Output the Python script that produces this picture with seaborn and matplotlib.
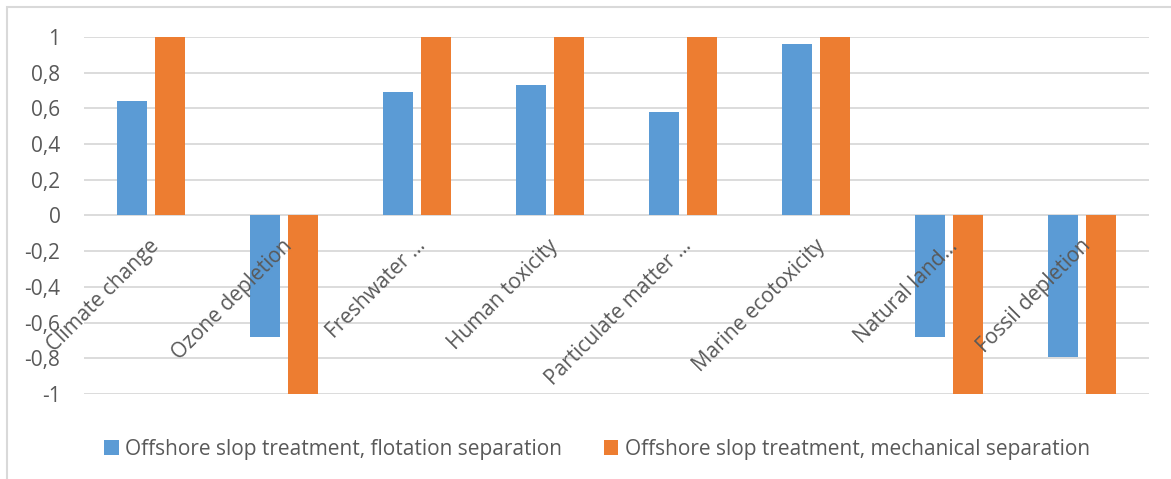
import matplotlib
matplotlib.use("Agg")
import matplotlib.pyplot as plt
from matplotlib.patches import Rectangle, Patch
from matplotlib.transforms import offset_copy
import seaborn as sns
import pandas as pd

categories = [
    "Climate change", "Ozone depletion", "Freshwater …", "Human toxicity",
    "Particulate matter …", "Marine ecotoxicity", "Natural land…", "Fossil depletion",
]
flotation = [0.64, -0.68, 0.69, 0.73, 0.58, 0.96, -0.68, -0.79]
mechanical = [1, -1, 1, 1, 1, 1, -1, -1]
series_names = [
    "Offshore slop treatment, flotation separation",
    "Offshore slop treatment, mechanical separation",
]
y_ticks = [-1, -0.8, -0.6, -0.4, -0.2, 0, 0.2, 0.4, 0.6, 0.8, 1]

colors = ["#5B9BD5", "#ED7D31"]
text_color = "#595959"
grid_color = "#D9D9D9"
fs = 15

df = pd.DataFrame({
    "category": categories * 2,
    "value": flotation + mechanical,
    "series": [series_names[0]] * len(categories) + [series_names[1]] * len(categories),
})

sns.set_theme(style="white")
plt.rcParams["font.family"] = ["Open Sans", "DejaVu Sans"]

fig = plt.figure(figsize=(11.71, 4.79), dpi=100)
W, H = 1171, 479
ax = fig.add_axes([84 / W, 1 - 394 / H, (1149 - 84) / W, (394 - 37) / H])

sns.barplot(data=df, x="category", y="value", hue="series", order=categories,
            hue_order=series_names, palette=colors, width=0.57, gap=0.21,
            saturation=1, edgecolor="none", legend=False, ax=ax, zorder=3)

ax.set_ylim(-1, 1)
ax.set_xlim(-0.5, len(categories) - 0.5)
ax.set_yticks(y_ticks)
ax.set_yticklabels([f"{t:g}".replace(".", ",") for t in y_ticks],
                   fontsize=fs, color=text_color)
ax.tick_params(axis="y", length=0, pad=17)
ax.set_xticks([])
ax.set_xlabel("")
ax.set_ylabel("")
for s in ax.spines.values():
    s.set_visible(False)
ax.yaxis.grid(True, color=grid_color, linewidth=1.3, zorder=0)
ax.set_axisbelow(True)

# category labels sit just below the zero line, rotated
lab_tr = offset_copy(ax.transData, fig=fig, x=-2, y=-20, units="dots")
for i, c in enumerate(categories):
    ax.text(i, 0, c, transform=lab_tr, rotation=45, rotation_mode="anchor",
            ha="right", va="top", fontsize=fs, color=text_color, zorder=5)

handles = [Patch(facecolor=col, edgecolor="none") for col in colors]
fig.legend(handles, series_names, loc="center", bbox_to_anchor=(597 / W, 1 - 449 / H),
           ncol=2, frameon=False, fontsize=fs, labelcolor=text_color,
           handlelength=0.7, handleheight=0.7, handletextpad=0.3, columnspacing=2.0)

# chart area border
fig.patches.append(Rectangle((7 / W, -0.1), 1.2, 1 - 7 / H + 0.1,
                             transform=fig.transFigure, fill=False,
                             edgecolor=grid_color, linewidth=1.5))

fig.savefig("out.png", dpi=100, facecolor="white")
